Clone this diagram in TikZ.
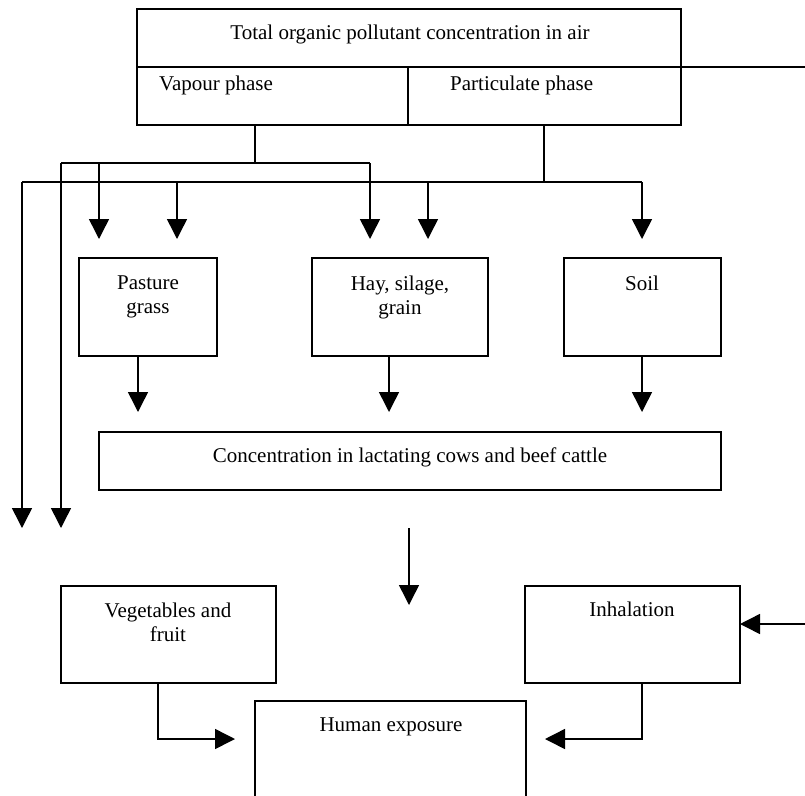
\documentclass[tikz,border=0pt]{standalone}
\usepackage{fontspec}
\setmainfont{Liberation Serif}
\usetikzlibrary{arrows.meta}
\begin{document}
\begin{tikzpicture}[x=1pt,y=-1pt,
  box/.style={draw, line width=1.5pt, rectangle, inner sep=0pt, outer sep=0pt, anchor=north west},
  txt/.style={inner sep=0pt, font=\fontsize{21}{23.5}\selectfont, align=center},
  ln/.style={line width=1.5pt},
  arr/.style={line width=1.5pt, -{Triangle[width=20pt,length=20pt]}}]
\useasboundingbox (0,0) rectangle (805,795);
\clip (0,0) rectangle (805,795);
% boxes
\node[box, minimum width=544pt, minimum height=58pt] (top) at (137,9) {};
\node[box, minimum width=271pt, minimum height=58pt] (vap) at (137,67) {};
\node[box, minimum width=273pt, minimum height=58pt] (part) at (408,67) {};
\node[box, minimum width=138pt, minimum height=98pt] (pasture) at (79,258) {};
\node[box, minimum width=176pt, minimum height=98pt] (hay) at (312,258) {};
\node[box, minimum width=157pt, minimum height=98pt] (soil) at (564,258) {};
\node[box, minimum width=622pt, minimum height=58pt] (cattle) at (99,432) {};
\node[box, minimum width=215pt, minimum height=97pt] (veg) at (61,586) {};
\node[box, minimum width=215pt, minimum height=97pt] (inh) at (525,586) {};
\node[box, minimum width=271pt, minimum height=140pt] (human) at (255,701) {};
% texts
\node[txt, anchor=base] (ttop) at (410,39) {Total organic pollutant concentration in air};
\node[txt, anchor=base west] (tvap) at (159,90) {Vapour phase};
\node[txt, anchor=base west] (tpart) at (450,90) {Particulate phase};
\node[txt, anchor=north] (tpas) at (148,276) {Pasture\\grass};
\node[txt, anchor=north] (thay) at (400,276) {Hay, silage,\\grain};
\node[txt, anchor=base] (tsoil) at (642,290) {Soil};
\node[txt, anchor=base] (tcat) at (410,462) {Concentration in lactating cows and beef cattle};
\node[txt, anchor=north] (tveg) at (168,603) {Vegetables and\\fruit};
\node[txt, anchor=base] (tinh) at (632,616) {Inhalation};
\node[txt, anchor=base] (thum) at (391,731) {Human exposure};
% helper coordinates
\coordinate (rend) at (805,67);
\coordinate (lt) at (0,528);
\coordinate (ut) at (0,239);
\coordinate (vj) at (255,163);
\coordinate (vl) at (61,163);
\coordinate (vr) at (370,163);
\coordinate (v1) at (99,163);
\coordinate (pj) at (544,182);
\coordinate (pl) at (22,182);
\coordinate (pr) at (642,182);
\coordinate (p1) at (177,182);
\coordinate (p2) at (428,182);
\coordinate (ax1) at (138,412);
\coordinate (ax2) at (389,412);
\coordinate (ax3) at (642,412);
\coordinate (ms) at (409,528);
\coordinate (me) at (409,605);
\coordinate (ie) at (805,624);
\coordinate (vb) at (158,739);
\coordinate (hl) at (235,739);
\coordinate (ib) at (642,739);
\coordinate (hr) at (545,739);
% connectors
\draw[ln] (top.south east) -- (rend);
\draw[ln] (vap.south -| vj) -- (vj);
\draw[ln] (vl) -- (vr);
\draw[arr] (vl) -- (vl |- lt);
\draw[arr] (v1) -- (v1 |- ut);
\draw[arr] (vr) -- (vr |- ut);
\draw[ln] (part.south -| pj) -- (pj);
\draw[ln] (pl) -- (pr);
\draw[arr] (pl) -- (pl |- lt);
\draw[arr] (p1) -- (p1 |- ut);
\draw[arr] (p2) -- (p2 |- ut);
\draw[arr] (pr) -- (pr |- ut);
\draw[arr] (pasture.south -| ax1) -- (ax1);
\draw[arr] (hay.south -| ax2) -- (ax2);
\draw[arr] (soil.south -| ax3) -- (ax3);
\draw[arr] (ms) -- (me);
\draw[arr] (ie) -- (inh.east |- ie);
\draw[arr] (veg.south -| vb) -- (vb) -- (hl);
\draw[arr] (inh.south -| ib) -- (ib) -- (hr);
\end{tikzpicture}
\end{document}
